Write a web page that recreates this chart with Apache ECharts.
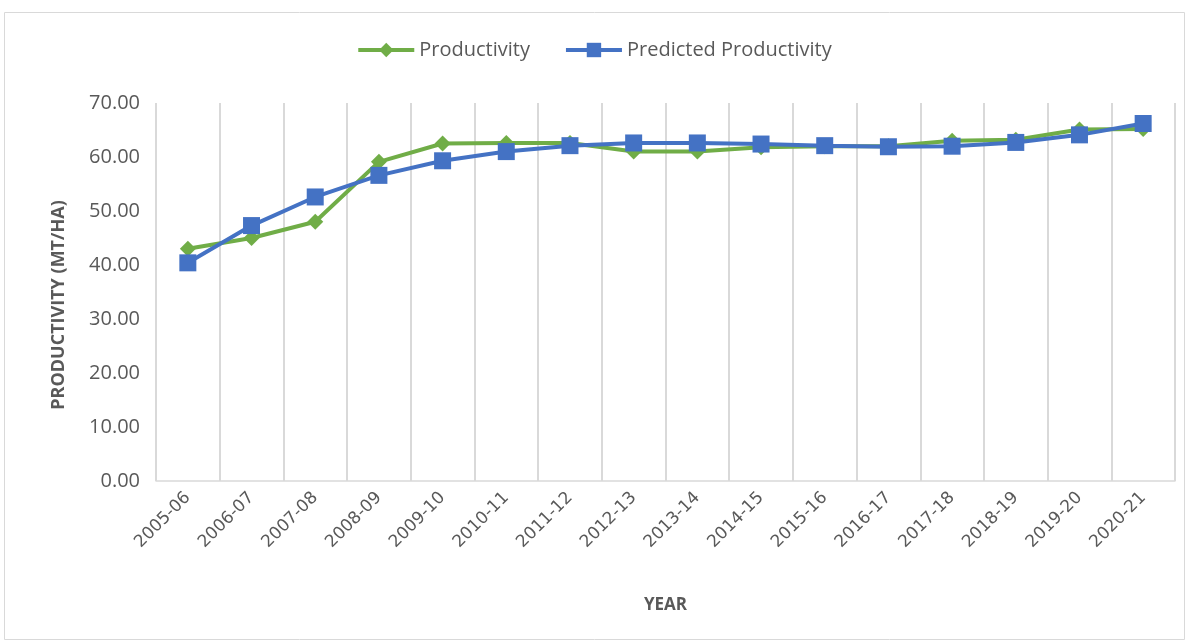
<!DOCTYPE html>
<html>
<head>
<meta charset="utf-8">
<script src="https://cdn.jsdelivr.net/npm/echarts@6/dist/echarts.min.js"></script>
<style>
    html, body { margin: 0; padding: 0; background: #fff; }
    #chart { width: 1188px; height: 642px; }
</style>
</head>
<body>
<div id="chart"></div>
<script>
// Data
var years = ['2005-06', '2006-07', '2007-08', '2008-09', '2009-10', '2010-11', '2011-12', '2012-13',
    '2013-14', '2014-15', '2015-16', '2016-17', '2017-18', '2018-19', '2019-20', '2020-21'];
var productivity = [43.0, 45.0, 48.0, 59.1, 62.5, 62.6, 62.6, 61.0, 61.0, 61.8, 62.0, 62.0, 63.0, 63.2, 65.1, 65.2];
var predicted = [40.4, 47.3, 52.6, 56.6, 59.3, 61.0, 62.1, 62.6, 62.6, 62.4, 62.1, 61.9, 62.0, 62.7, 64.1, 66.2];

var fontFamily = '"Open Sans", "Noto Sans", sans-serif';

var chart = echarts.init(document.getElementById('chart'));

chart.setOption({
    animation: false,
    textStyle: { fontFamily: fontFamily, color: '#595959' },

    // Outer frame
    graphic: [{
        type: 'rect',
        shape: { x: 4.5, y: 12.5, width: 1180, height: 627 },
        style: { fill: 'none', stroke: '#d9d9d9', lineWidth: 1 }
    }],

    legend: {
        top: 35,
        left: 'center',
        itemWidth: 56,
        itemHeight: 18,
        itemGap: 34,
        lineStyle: { width: 4 },
        textStyle: { fontSize: 20, color: '#595959', fontFamily: fontFamily },
        data: ['Productivity', 'Predicted Productivity']
    },

    grid: { left: 156, right: 13, top: 103, bottom: 161 },

    xAxis: {
        type: 'category',
        data: years,
        boundaryGap: true,
        name: 'YEAR',
        nameLocation: 'middle',
        nameGap: 116,
        nameTextStyle: { fontSize: 17, fontWeight: 'bold', color: '#595959' },
        axisLine: { lineStyle: { color: '#d9d9d9', width: 1.5 } },
        axisTick: { show: false },
        axisLabel: {
            rotate: 45, fontSize: 17, color: '#595959', margin: 14,
            fontFamily: '"DejaVu Sans", sans-serif'
        },
        splitLine: { show: true, lineStyle: { color: '#d9d9d9', width: 2 } }
    },

    yAxis: {
        type: 'value',
        min: 0,
        max: 70,
        interval: 10,
        name: 'PRODUCTIVITY (MT/HA)',
        nameLocation: 'middle',
        nameGap: 88,
        nameTextStyle: { fontSize: 18, fontWeight: 'bold', color: '#595959', padding: [0, 26, 0, 0] },
        axisLine: { show: false },
        axisTick: { show: false },
        axisLabel: {
            fontSize: 20, color: '#595959', margin: 16,
            formatter: function (v) { return v.toFixed(2); }
        },
        splitLine: { show: false }
    },

    series: [{
        name: 'Productivity',
        type: 'line',
        data: productivity,
        symbol: 'diamond',
        symbolSize: 16,
        color: '#70ad47',
        lineStyle: { width: 4, color: '#70ad47' },
        itemStyle: { color: '#70ad47' },
        z: 2
    }, {
        name: 'Predicted Productivity',
        type: 'line',
        data: predicted,
        symbol: 'rect',
        symbolSize: 17,
        color: '#4472c4',
        lineStyle: { width: 4, color: '#4472c4' },
        itemStyle: { color: '#4472c4' },
        z: 3
    }]
});
</script>
</body>
</html>
